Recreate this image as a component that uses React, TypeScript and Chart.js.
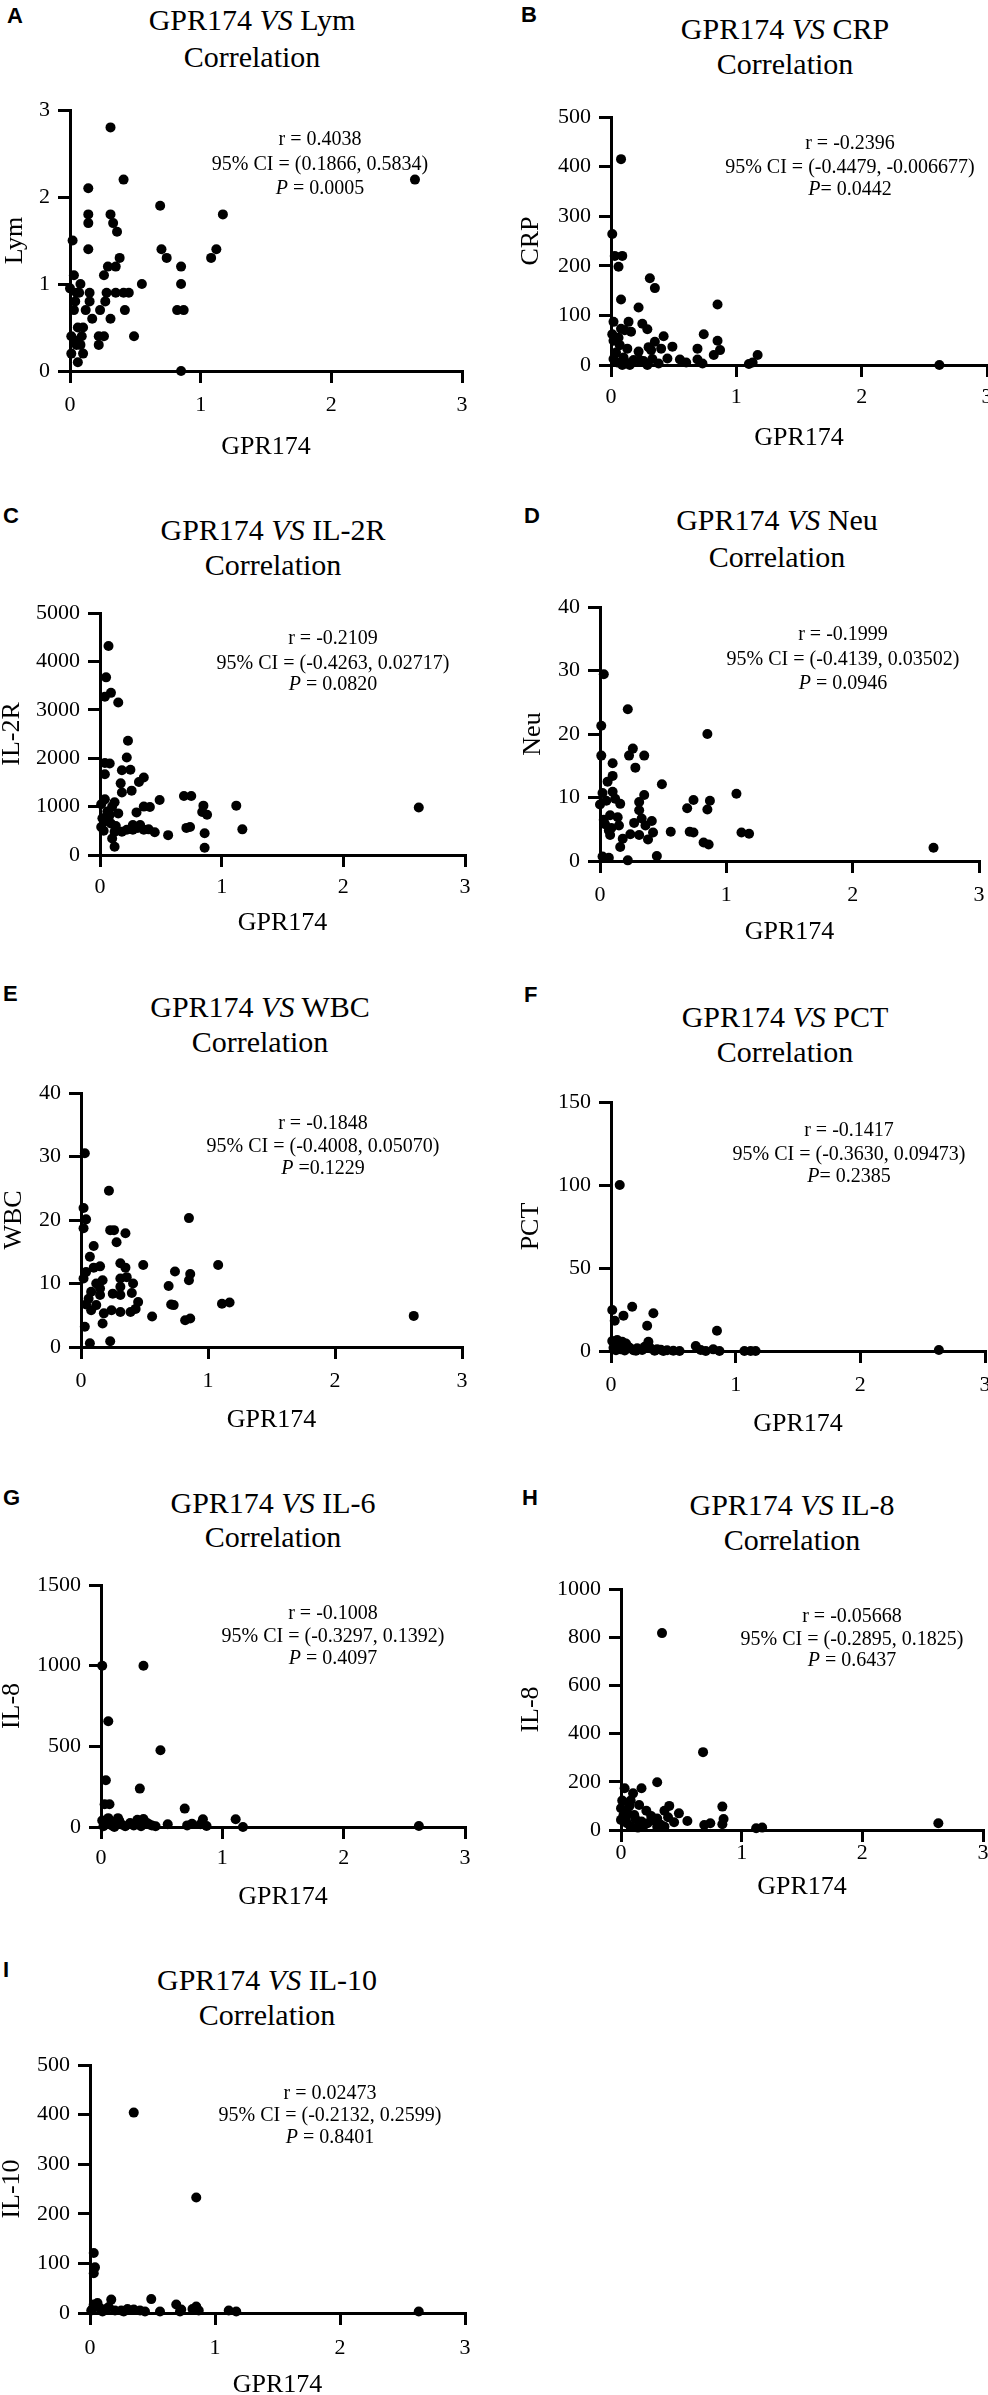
import { useEffect, useRef } from 'react'
import { Chart, registerables } from 'chart.js'

Chart.register(...registerables)

const SERIF = '"Liberation Serif", "Times New Roman", serif'
const SANS = '"Liberation Sans", Arial, sans-serif'

// [GPR174, marker] pairs
const lymPts: [number, number][] = [
  [0.31, 2.8], [0.41, 2.2], [0.14, 2.1], [2.64, 2.2], [0.69, 1.9], [1.17, 1.8], [0.14, 1.8], [0.31, 1.8],
  [0.14, 1.7], [0.33, 1.7], [0.36, 1.6], [0.02, 1.5], [0.14, 1.4], [0.7, 1.4], [0.74, 1.3], [1.12, 1.4],
  [1.08, 1.3], [0.38, 1.3], [0.29, 1.2], [0.35, 1.2], [0.26, 1.1], [0.85, 1.2], [0.03, 1.1], [0.08, 1.0],
  [0.55, 1.0], [0.85, 1.0], [0.05, 0.9], [0.15, 0.9], [0.28, 0.9], [0.35, 0.9], [0.41, 0.9], [0.45, 0.9],
  [0.04, 0.8], [0.15, 0.8], [0.27, 0.8], [0.03, 0.7], [0.12, 0.7], [0.23, 0.7], [0.42, 0.7], [0.82, 0.7],
  [0.87, 0.7], [0.17, 0.6], [0.31, 0.6], [0.06, 0.5], [0.1, 0.5], [0.01, 0.4], [0.09, 0.4], [0.22, 0.4],
  [0.26, 0.4], [0.49, 0.4], [0.05, 0.3], [0.22, 0.3], [0.01, 0.2], [0.1, 0.2], [0.06, 0.1], [0.85, 0.0],
  [0.07, 0.9], [0.04, 0.35], [0.08, 0.3], [0.0, 0.95],
]

const crpPts: [number, number][] = [
  [0.08, 415], [0.01, 264], [0.03, 220], [0.09, 220], [0.06, 198], [0.31, 175], [0.35, 155], [0.08, 132],
  [0.85, 122], [0.22, 116], [0.02, 87], [0.14, 87], [0.25, 83], [0.29, 72], [0.16, 67], [0.01, 62],
  [0.74, 62], [0.42, 58], [0.08, 73], [0.85, 49], [0.02, 49], [0.35, 47], [0.49, 37], [0.3, 36],
  [0.4, 33], [0.69, 33], [0.13, 33], [0.87, 30], [0.82, 20], [1.17, 20], [0.22, 27], [0.55, 11],
  [0.69, 11], [0.45, 13], [0.73, 3], [1.1, 2], [1.13, 5], [2.62, 0], [0.29, 0], [0.38, 3],
  [0.23, 10], [0.18, 10], [0.04, 25], [0.07, 40], [0.1, 15], [0.12, 5], [0.05, 5], [0.15, 0],
  [0.02, 12], [0.06, 55], [0.11, 70], [0.26, 8], [0.33, 12], [0.09, 0], [0.32, 30], [0.6, 5],
]

const il2rPts: [number, number][] = [
  [0.07, 4320], [0.05, 3670], [0.09, 3350], [0.04, 3270], [0.15, 3150], [0.23, 2360], [0.22, 2015], [0.04, 1900],
  [0.08, 1890], [0.18, 1750], [0.25, 1760], [0.04, 1670], [0.36, 1600], [0.32, 1510], [0.17, 1480], [0.18, 1290],
  [0.26, 1330], [0.69, 1220], [0.75, 1220], [0.49, 1135], [0.04, 1150], [0.12, 1090], [0.36, 1000], [0.41, 990],
  [1.12, 1020], [0.85, 1020], [2.62, 980], [0.01, 1050], [0.3, 880], [0.84, 890], [0.88, 830], [0.15, 860],
  [0.08, 830], [0.02, 760], [0.27, 620], [0.33, 620], [0.71, 560], [0.74, 580], [1.17, 530], [0.01, 580],
  [0.12, 480], [0.18, 480], [0.27, 520], [0.36, 520], [0.45, 470], [0.56, 410], [0.86, 450], [0.1, 340],
  [0.12, 170], [0.86, 150], [0.05, 700], [0.09, 650], [0.06, 900], [0.03, 500], [0.13, 600], [0.22, 520],
  [0.31, 560], [0.1, 1000], [0.07, 770], [0.4, 530],
]

const neuPts: [number, number][] = [
  [0.03, 29.4], [0.01, 21.3], [0.22, 23.9], [0.85, 20], [0.26, 17.7], [0.23, 16.6], [0.35, 16.6], [0.01, 16.6],
  [0.28, 14.7], [0.1, 15.4], [0.1, 13.4], [0.06, 12.5], [0.49, 12.1], [1.08, 10.6], [0.35, 10.4], [0.02, 10.7],
  [0.1, 10.9], [0, 8.9], [0.16, 9], [0.31, 9.3], [0.74, 9.6], [0.87, 9.5], [0.69, 8.3], [0.85, 8.1],
  [0.31, 8], [0.08, 7.2], [0.14, 6.9], [0.33, 6.7], [0.41, 6.3], [0.27, 6], [0.04, 5.8], [0.15, 5.6],
  [0.36, 5.6], [0.07, 4.8], [0.56, 4.6], [0.71, 4.6], [0.74, 4.5], [1.12, 4.5], [1.18, 4.3], [0.42, 4.5],
  [0.24, 4.2], [0.31, 4.1], [0.08, 4.1], [0.18, 3.5], [0.38, 3.4], [0.82, 2.9], [0.86, 2.6], [0.16, 2.2],
  [2.64, 2.1], [0.45, 0.8], [0.02, 0.7], [0.07, 0.5], [0.22, 0.1], [0.05, 9.5], [0.12, 9.8], [0.03, 6.5],
  [0.09, 5.2],
]

const wbcPts: [number, number][] = [
  [0.03, 30.5], [0.22, 24.6], [0.02, 21.9], [0.04, 20.1], [0.85, 20.3], [0.02, 18.7], [0.23, 18.4], [0.26, 18.4],
  [0.35, 17.9], [0.28, 16.5], [0.1, 15.9], [0.07, 14.2], [0.31, 13.2], [0.49, 12.9], [1.08, 12.9], [0.15, 12.7],
  [0.35, 12.5], [0.1, 12.5], [0.04, 11.8], [0.74, 11.9], [0.86, 11.5], [0.85, 10.5], [0.17, 10.5], [0.02, 10.8],
  [0.36, 11], [0.31, 10.8], [0.41, 10], [0.12, 10], [0.69, 9.6], [0.31, 9.5], [0.15, 9.2], [0.08, 8.7],
  [0.25, 8.4], [0.4, 8.5], [0.31, 8.2], [0.15, 8.2], [0.06, 7.6], [0.45, 7.1], [1.11, 6.8], [1.17, 7],
  [0.71, 6.7], [0.73, 6.6], [0.04, 6.7], [0.12, 6.6], [0.08, 5.8], [0.24, 5.8], [0.31, 5.5], [0.39, 5.5],
  [0.43, 6], [0.18, 5.3], [0.56, 4.8], [2.62, 4.9], [0.82, 4.2], [0.86, 4.5], [0.17, 3.7], [0.03, 3.2],
  [0.07, 0.6], [0.23, 0.9],
]

const pctPts: [number, number][] = [
  [0.07, 100], [0.17, 26.7], [0.01, 24.7], [0.1, 21.3], [0.34, 22.7], [0.03, 18.2], [0.29, 15.2], [0.85, 12.2],
  [0.3, 5.6], [0.01, 6], [0.05, 6.6], [0.09, 5.6], [0.13, 3], [0.21, 1.6], [0.25, 0.6], [0.37, 1],
  [0.45, 0.4], [0.55, 0], [0.68, 3], [0.72, 0.6], [0.82, 1], [0.87, 0], [1.07, 0], [1.12, 0],
  [1.16, 0], [2.63, 0.6], [0.02, 2], [0.04, 0.5], [0.06, 3], [0.08, 1], [0.11, 0.3], [0.15, 2],
  [0.18, 0.5], [0.27, 2.5], [0.32, 1.5], [0.4, 0.8], [0.5, 0.2], [0.03, 4], [0.12, 4.5], [0.2, 0.2],
  [0.35, 0.2], [0.42, 0], [0.76, 0],
]

const il6Pts: [number, number][] = [
  [0.01, 1000], [0.35, 1000], [0.06, 656], [0.49, 476], [0.04, 290], [0.32, 238], [0.03, 141], [0.07, 141],
  [0.69, 114], [1.11, 48], [0.84, 48], [0.55, 17], [0.71, 10], [0.75, 20], [0.82, 17], [0.87, 6],
  [1.17, 0], [2.62, 6], [0.01, 40], [0.04, 20], [0.06, 55], [0.09, 10], [0.12, 30], [0.14, 55],
  [0.17, 15], [0.2, 5], [0.24, 25], [0.27, 10], [0.3, 45], [0.33, 5], [0.35, 50], [0.38, 25],
  [0.42, 10], [0.45, 5], [0.02, 5], [0.08, 35], [0.15, 40], [0.11, 0], [0.29, 20], [0.4, 15],
  [0.05, 25],
]

const il8Pts: [number, number][] = [
  [0.34, 817], [0.68, 323], [0.3, 198], [0.03, 173], [0.17, 173], [0.1, 152], [0.01, 122], [0.08, 122],
  [0.15, 104], [0.4, 100], [0.84, 97], [0, 90], [0.21, 80], [0.36, 80], [0.05, 76], [0.48, 69],
  [0.11, 62], [0.25, 58], [0.39, 53], [0.3, 48], [0.85, 46], [0, 42], [0.55, 37], [0.44, 32],
  [0.17, 35], [0.22, 28], [0.27, 40], [0.74, 28], [0.69, 21], [0.84, 24], [0.05, 28], [0.08, 14],
  [0.14, 10], [0.3, 14], [0.36, 14], [1.12, 7], [1.17, 10], [2.63, 28], [0.02, 60], [0.12, 45],
  [0.07, 100], [0.19, 20], [0.33, 22], [0.04, 50],
]

const il10Pts: [number, number][] = [
  [0.35, 404], [0.85, 233], [0.03, 121], [0.04, 92], [0.03, 80], [0.17, 27], [0.49, 28], [0.69, 17],
  [0.85, 13], [0.56, 3], [0.73, 7], [0.72, 3], [0.87, 5], [1.11, 5], [1.17, 3], [2.63, 3],
  [0.03, 17], [0.05, 15], [0.08, 10], [0.01, 5], [0.1, 3], [0.13, 8], [0.2, 5], [0.25, 5],
  [0.3, 8], [0.35, 7], [0.4, 5], [0.44, 3], [0.06, 20], [0.15, 12], [0.02, 8], [0.82, 8],
  [0.27, 3],
]

type Panel = {
  letter: string
  target: string
  yLabel: string
  pts: [number, number][]
  yMax: number
  yStep: number
  r: string
  ci: string
  p: string
  // layout, page px
  plotL: number; plotR: number; plotT: number; plotB: number
  yTitleX: number; xTickY: number; xTitleY: number
  titleX: number; titleY: [number, number]
  statsX: number; statsY: [number, number, number]
  letterX: number; letterY: number
}

const panels: Panel[] = [
  { letter: 'A', target: 'Lym', yLabel: 'Lym', pts: lymPts, yMax: 3, yStep: 1,
    r: 'r = 0.4038', ci: '95% CI = (0.1866, 0.5834)', p: ' = 0.0005',
    plotL: 70, plotR: 462, plotT: 110, plotB: 371, yTitleX: 15, xTickY: 405, xTitleY: 447,
    titleX: 252, titleY: [20, 57], statsX: 320, statsY: [138, 163, 187], letterX: 7, letterY: 8 },
  { letter: 'B', target: 'CRP', yLabel: 'CRP', pts: crpPts, yMax: 500, yStep: 100,
    r: 'r = -0.2396', ci: '95% CI = (-0.4479, -0.006677)', p: '= 0.0442',
    plotL: 611, plotR: 987, plotT: 117, plotB: 365, yTitleX: 531, xTickY: 397, xTitleY: 438,
    titleX: 785, titleY: [29, 64], statsX: 850, statsY: [142, 166, 188], letterX: 521, letterY: 7 },
  { letter: 'C', target: 'IL-2R', yLabel: 'IL-2R', pts: il2rPts, yMax: 5000, yStep: 1000,
    r: 'r = -0.2109', ci: '95% CI = (-0.4263, 0.02717)', p: ' = 0.0820',
    plotL: 100, plotR: 465, plotT: 613, plotB: 855, yTitleX: 12, xTickY: 887, xTitleY: 923,
    titleX: 273, titleY: [530, 565], statsX: 333, statsY: [637, 662, 683], letterX: 3, letterY: 508 },
  { letter: 'D', target: 'Neu', yLabel: 'Neu', pts: neuPts, yMax: 40, yStep: 10,
    r: 'r = -0.1999', ci: '95% CI = (-0.4139, 0.03502)', p: ' = 0.0946',
    plotL: 600, plotR: 979, plotT: 607, plotB: 861, yTitleX: 533, xTickY: 895, xTitleY: 932,
    titleX: 777, titleY: [520, 557], statsX: 843, statsY: [633, 658, 682], letterX: 524, letterY: 508 },
  { letter: 'E', target: 'WBC', yLabel: 'WBC', pts: wbcPts, yMax: 40, yStep: 10,
    r: 'r = -0.1848', ci: '95% CI = (-0.4008, 0.05070)', p: ' =0.1229',
    plotL: 81, plotR: 462, plotT: 1093, plotB: 1347, yTitleX: 14, xTickY: 1381, xTitleY: 1420,
    titleX: 260, titleY: [1007, 1042], statsX: 323, statsY: [1122, 1145, 1167], letterX: 3, letterY: 986 },
  { letter: 'F', target: 'PCT', yLabel: 'PCT', pts: pctPts, yMax: 150, yStep: 50,
    r: 'r = -0.1417', ci: '95% CI = (-0.3630, 0.09473)', p: '= 0.2385',
    plotL: 611, plotR: 985, plotT: 1102, plotB: 1351, yTitleX: 531, xTickY: 1385, xTitleY: 1424,
    titleX: 785, titleY: [1017, 1052], statsX: 849, statsY: [1129, 1153, 1175], letterX: 524, letterY: 987 },
  { letter: 'G', target: 'IL-6', yLabel: 'IL-8', pts: il6Pts, yMax: 1500, yStep: 500,
    r: 'r = -0.1008', ci: '95% CI = (-0.3297, 0.1392)', p: ' = 0.4097',
    plotL: 101, plotR: 465, plotT: 1585, plotB: 1827, yTitleX: 12, xTickY: 1858, xTitleY: 1897,
    titleX: 273, titleY: [1503, 1537], statsX: 333, statsY: [1612, 1635, 1657], letterX: 3, letterY: 1490 },
  { letter: 'H', target: 'IL-8', yLabel: 'IL-8', pts: il8Pts, yMax: 1000, yStep: 200,
    r: 'r = -0.05668', ci: '95% CI = (-0.2895, 0.1825)', p: ' = 0.6437',
    plotL: 621, plotR: 983, plotT: 1589, plotB: 1830, yTitleX: 531, xTickY: 1853, xTitleY: 1887,
    titleX: 792, titleY: [1505, 1540], statsX: 852, statsY: [1615, 1638, 1659], letterX: 522, letterY: 1490 },
  { letter: 'I', target: 'IL-10', yLabel: 'IL-10', pts: il10Pts, yMax: 500, yStep: 100,
    r: 'r = 0.02473', ci: '95% CI = (-0.2132, 0.2599)', p: ' = 0.8401',
    plotL: 90, plotR: 465, plotT: 2065, plotB: 2313, yTitleX: 12, xTickY: 2348, xTitleY: 2385,
    titleX: 267, titleY: [1980, 2015], statsX: 330, statsY: [2092, 2114, 2136], letterX: 3, letterY: 1962 },
]

const TICK = 12
const PAD_TOP = 20
const PAD_RIGHT = 16

function Scatter({ p }: { p: Panel }) {
  const ref = useRef<HTMLCanvasElement>(null)
  const left = Math.round(p.yTitleX - 13)
  const top = p.plotT - PAD_TOP
  const right = p.plotR + PAD_RIGHT
  const bottom = Math.round(p.xTitleY + 13)
  const w = right - left
  const h = bottom - top
  const yW = p.plotL - left
  const xH = bottom - p.plotB

  useEffect(() => {
    if (!ref.current) return
    const line = {
      border: { display: true, color: '#000', width: 3 },
      grid: {
        display: true, drawOnChartArea: false, drawTicks: true,
        tickLength: TICK, tickWidth: 3, tickColor: '#000', color: '#000', lineWidth: 3,
      },
    }
    const noPad = (s: any) => { s.paddingLeft = 0; s.paddingRight = 0; s.paddingTop = 0; s.paddingBottom = 0 }
    const chart = new Chart(ref.current, {
      type: 'scatter',
      data: {
        datasets: [{
          data: p.pts.map(([x, y]) => ({ x, y })),
          pointRadius: 5,
          pointHoverRadius: 5,
          pointBackgroundColor: '#000',
          pointBorderWidth: 0,
          clip: false,
        }],
      },
      options: {
        responsive: false,
        animation: false,
        events: [],
        layout: { padding: { top: PAD_TOP, right: PAD_RIGHT, bottom: 0, left: 0 } },
        plugins: { legend: { display: false }, tooltip: { enabled: false } },
        scales: {
          x: {
            type: 'linear', min: 0, max: 3,
            ...line,
            ticks: {
              stepSize: 1, color: '#000', padding: p.xTickY - p.plotB - TICK - 11,
              font: { family: SERIF, size: 22, lineHeight: 1 },
            },
            title: {
              display: true, text: 'GPR174', color: '#000', padding: 0,
              font: { family: SERIF, size: 26, lineHeight: 1 },
            },
            afterFit: (s: any) => { s.height = xH; noPad(s) },
          },
          y: {
            type: 'linear', min: 0, max: p.yMax,
            ...line,
            ticks: {
              stepSize: p.yStep, color: '#000', padding: 8,
              font: { family: SERIF, size: 22, lineHeight: 1 },
              callback: (v: any) => `${v}`,
            },
            title: {
              display: true, text: p.yLabel, color: '#000', padding: 0,
              font: { family: SERIF, size: 26, lineHeight: 1 },
            },
            afterFit: (s: any) => { s.width = yW; noPad(s) },
          },
        },
      },
    } as any)
    return () => chart.destroy()
  }, [p])

  return (
    <canvas ref={ref} width={w} height={h}
      style={{ position: 'absolute', left, top, width: w, height: h }} />
  )
}

function Txt({ x, y, size, children, bold = false, font = SERIF, center = true }:
  { x: number; y: number; size: number; children: any; bold?: boolean; font?: string; center?: boolean }) {
  return (
    <div style={{
      position: 'absolute',
      top: y - size * 0.51,
      left: center ? x - 300 : x,
      width: center ? 600 : undefined,
      textAlign: center ? 'center' : 'left',
      fontFamily: font, fontSize: size, lineHeight: 1,
      fontWeight: bold ? 700 : 400,
      whiteSpace: 'nowrap', color: '#000',
    }}>{children}</div>
  )
}

export default function App() {
  return (
    <div style={{
      position: 'absolute', left: 0, top: 0, width: 988, height: 2395,
      overflow: 'hidden', background: '#fff',
    }}>
      {panels.map(p => (
        <div key={p.letter}>
          <Scatter p={p} />
          <Txt x={p.letterX} y={p.letterY + 8} size={22} bold font={SANS} center={false}>{p.letter}</Txt>
          <Txt x={p.titleX} y={p.titleY[0]} size={30}>GPR174 <i>VS</i> {p.target}</Txt>
          <Txt x={p.titleX} y={p.titleY[1]} size={30}>Correlation</Txt>
          <Txt x={p.statsX} y={p.statsY[0]} size={20}>{p.r}</Txt>
          <Txt x={p.statsX} y={p.statsY[1]} size={20}>{p.ci}</Txt>
          <Txt x={p.statsX} y={p.statsY[2]} size={20}><i>P</i>{p.p}</Txt>
        </div>
      ))}
    </div>
  )
}
